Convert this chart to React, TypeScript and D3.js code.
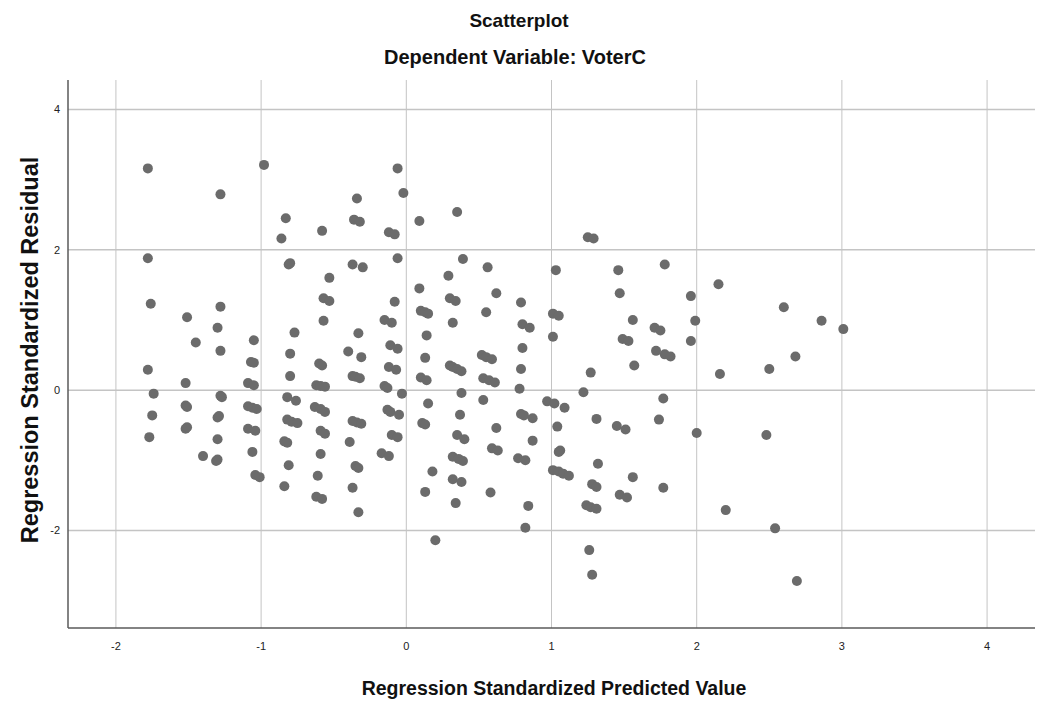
import React from 'react';
import * as d3 from 'd3';

// [standardized predicted value, standardized residual]
const residualPoints: [number, number][] = [
  [-1.78, 3.16], [-1.78, 1.88], [-1.76, 1.23], [-1.78, 0.29], [-1.74, -0.05], [-1.75, -0.36], [-1.77, -0.67],
  [-1.51, 1.04], [-1.45, 0.68], [-1.52, 0.10], [-1.52, -0.22], [-1.51, -0.24], [-1.52, -0.55], [-1.51, -0.53], [-1.40, -0.94],
  [-1.28, 2.79], [-1.28, 1.19], [-1.30, 0.89], [-1.28, 0.56], [-1.28, -0.08], [-1.27, -0.10], [-1.30, -0.39], [-1.29, -0.37],
  [-1.30, -0.70], [-1.31, -1.01], [-1.30, -0.99],
  [-0.98, 3.21], [-1.05, 0.71], [-1.07, 0.40], [-1.05, 0.39], [-1.09, 0.10], [-1.05, 0.07], [-1.09, -0.23], [-1.06, -0.25],
  [-1.03, -0.27], [-1.09, -0.55], [-1.04, -0.58], [-1.06, -0.88], [-1.04, -1.21], [-1.01, -1.24],
  [-0.83, 2.45], [-0.86, 2.16], [-0.81, 1.79], [-0.80, 1.81], [-0.77, 0.82], [-0.80, 0.52], [-0.80, 0.20], [-0.82, -0.10],
  [-0.76, -0.15], [-0.82, -0.42], [-0.79, -0.45], [-0.75, -0.47], [-0.84, -0.73], [-0.82, -0.75], [-0.81, -1.07], [-0.84, -1.37],
  [-0.58, 2.27], [-0.53, 1.60], [-0.57, 1.31], [-0.53, 1.27], [-0.57, 0.99], [-0.60, 0.38], [-0.58, 0.35], [-0.62, 0.07],
  [-0.59, 0.06], [-0.56, 0.05], [-0.63, -0.24], [-0.59, -0.27], [-0.56, -0.31], [-0.59, -0.58], [-0.56, -0.62], [-0.59, -0.91],
  [-0.61, -1.22], [-0.62, -1.52], [-0.58, -1.55],
  [-0.34, 2.73], [-0.36, 2.43], [-0.32, 2.40], [-0.37, 1.79], [-0.30, 1.75], [-0.33, 0.81], [-0.40, 0.55], [-0.31, 0.47],
  [-0.37, 0.20], [-0.35, 0.19], [-0.32, 0.17], [-0.37, -0.44], [-0.34, -0.46], [-0.31, -0.48], [-0.39, -0.74], [-0.35, -1.08],
  [-0.33, -1.11], [-0.37, -1.39], [-0.33, -1.74],
  [-0.06, 3.16], [-0.02, 2.81], [-0.12, 2.25], [-0.08, 2.22], [-0.06, 1.88], [-0.08, 1.26], [-0.15, 1.00], [-0.10, 0.96],
  [-0.11, 0.64], [-0.06, 0.59], [-0.12, 0.33], [-0.07, 0.29], [-0.15, 0.06], [-0.13, 0.03], [-0.03, -0.05], [-0.13, -0.28],
  [-0.11, -0.31], [-0.05, -0.35], [-0.10, -0.64], [-0.06, -0.67], [-0.17, -0.90], [-0.12, -0.94],
  [0.09, 2.41], [0.09, 1.45], [0.10, 1.13], [0.13, 1.11], [0.15, 1.09], [0.14, 0.78], [0.13, 0.46], [0.10, 0.18],
  [0.14, 0.14], [0.15, -0.19], [0.11, -0.47], [0.13, -0.49], [0.18, -1.16], [0.13, -1.45], [0.20, -2.14],
  [0.35, 2.54], [0.39, 1.87], [0.29, 1.63], [0.30, 1.31], [0.34, 1.27], [0.32, 0.96], [0.30, 0.35], [0.32, 0.33],
  [0.35, 0.30], [0.38, 0.27], [0.38, -0.04], [0.37, -0.35], [0.35, -0.64], [0.40, -0.70], [0.32, -0.95], [0.36, -0.98],
  [0.39, -1.01], [0.32, -1.27], [0.38, -1.31], [0.34, -1.61],
  [0.56, 1.75], [0.62, 1.38], [0.55, 1.11], [0.52, 0.50], [0.55, 0.47], [0.59, 0.44], [0.53, 0.17], [0.57, 0.14],
  [0.61, 0.11], [0.53, -0.14], [0.62, -0.54], [0.59, -0.83], [0.63, -0.86], [0.58, -1.46],
  [0.79, 1.25], [0.80, 0.94], [0.85, 0.89], [0.80, 0.60], [0.79, 0.30], [0.78, 0.02], [0.79, -0.34], [0.81, -0.36],
  [0.87, -0.40], [0.87, -0.72], [0.77, -0.97], [0.82, -1.00], [0.84, -1.65], [0.82, -1.96],
  [1.03, 1.71], [1.01, 1.09], [1.05, 1.06], [1.01, 0.76], [0.97, -0.16], [1.02, -0.19], [1.09, -0.25], [1.04, -0.52],
  [1.06, -0.86], [1.05, -0.88], [1.01, -1.14], [1.05, -1.16], [1.08, -1.19], [1.12, -1.22],
  [1.25, 2.18], [1.29, 2.16], [1.27, 0.25], [1.22, -0.03], [1.31, -0.41], [1.32, -1.05], [1.28, -1.34], [1.31, -1.38],
  [1.24, -1.64], [1.27, -1.67], [1.31, -1.69], [1.26, -2.28], [1.28, -2.63],
  [1.46, 1.71], [1.47, 1.38], [1.56, 1.00], [1.49, 0.73], [1.53, 0.70], [1.57, 0.35], [1.45, -0.51], [1.51, -0.56],
  [1.56, -1.24], [1.47, -1.49], [1.52, -1.53],
  [1.78, 1.79], [1.71, 0.89], [1.75, 0.85], [1.72, 0.56], [1.78, 0.51], [1.82, 0.48], [1.77, -0.12], [1.74, -0.42], [1.77, -1.39],
  [1.96, 1.34], [1.99, 0.99], [1.96, 0.70], [2.00, -0.61],
  [2.15, 1.51], [2.16, 0.23], [2.20, -1.71], [2.48, -0.64], [2.50, 0.30], [2.54, -1.97], [2.60, 1.18], [2.68, 0.48],
  [2.69, -2.72], [2.86, 0.99], [3.01, 0.87],
];

const xTicks = [-2, -1, 0, 1, 2, 3, 4];
const yTicks = [-2, 0, 2, 4];

const chartTitle = 'Scatterplot';
const chartSubtitle = 'Dependent Variable: VoterC';
const xLabel = 'Regression Standardized Predicted Value';
const yLabel = 'Regression Standardized Residual';

export default function App() {
  const width = 1038;
  const height = 705;
  const left = 68;
  const right = 1035;
  const top = 80;
  const bottom = 628;
  const font = '"Liberation Sans", Arial, sans-serif';

  const x = d3.scaleLinear().domain([-2.33, 4.33]).range([left, right]);
  const y = d3.scaleLinear().domain([-3.39, 4.42]).range([bottom, top]);

  return (
    <svg width={width} height={height} style={{ position: 'absolute', left: 0, top: 0, background: '#fff' }}>
      <rect x={0} y={0} width={width} height={height} fill="#fff" />

      <text x={519} y={27} textAnchor="middle" fontFamily={font} fontWeight="bold" fontSize={19} fill="#111">
        {chartTitle}
      </text>
      <text x={515} y={64} textAnchor="middle" fontFamily={font} fontWeight="bold" fontSize={20} fill="#111">
        {chartSubtitle}
      </text>

      {/* grid */}
      {xTicks.map(t => (
        <line key={'gx' + t} x1={x(t)} x2={x(t)} y1={top} y2={bottom} stroke="#c4c4c4" strokeWidth={1} />
      ))}
      {yTicks.map(t => (
        <line key={'gy' + t} x1={left} x2={right} y1={y(t)} y2={y(t)} stroke="#c4c4c4" strokeWidth={1.5} />
      ))}

      {/* axes */}
      <line x1={left} x2={left} y1={top} y2={bottom} stroke="#5a5a5a" strokeWidth={1.5} />
      <line x1={left} x2={right} y1={bottom} y2={bottom} stroke="#5a5a5a" strokeWidth={1.5} />

      {xTicks.map(t => (
        <text key={'tx' + t} x={x(t)} y={650} textAnchor="middle" fontFamily={font} fontSize={11} fill="#222">
          {t}
        </text>
      ))}
      {yTicks.map(t => (
        <text key={'ty' + t} x={60} y={y(t) + 4} textAnchor="end" fontFamily={font} fontSize={11} fill="#222">
          {t}
        </text>
      ))}

      <g>
        {residualPoints.map((d, i) => (
          <circle key={i} cx={x(d[0])} cy={y(d[1])} r={5} fill="#6b6b6b" />
        ))}
      </g>

      <text x={554} y={695} textAnchor="middle" fontFamily={font} fontWeight="bold" fontSize={19.5} fill="#111">
        {xLabel}
      </text>
      <text
        transform={`translate(38,350) rotate(-90)`}
        textAnchor="middle"
        fontFamily={font}
        fontWeight="bold"
        fontSize={23.5}
        fill="#111"
      >
        {yLabel}
      </text>
    </svg>
  );
}
